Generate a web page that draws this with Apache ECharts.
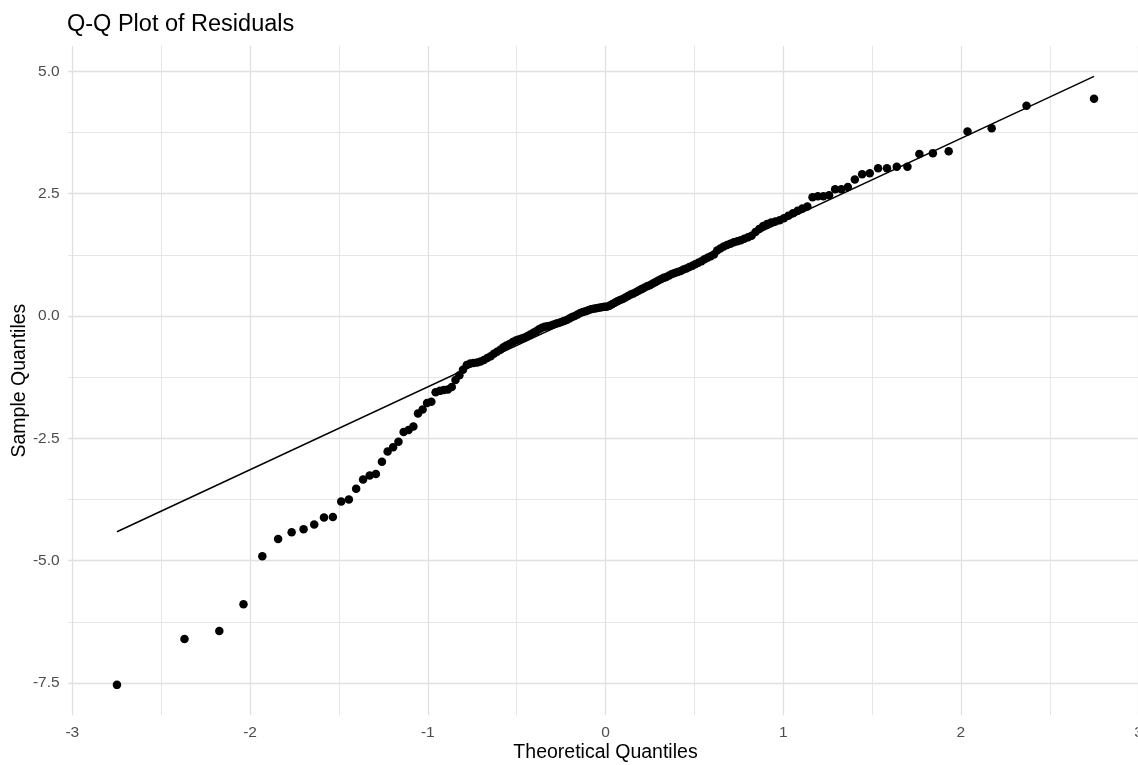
<!DOCTYPE html>
<html>
<head>
<meta charset="utf-8">
<title>Q-Q Plot of Residuals</title>
<script src="https://cdn.jsdelivr.net/npm/echarts@6/dist/echarts.min.js"></script>
<style>
  html, body { margin: 0; padding: 0; background: #ffffff; overflow: hidden; }
  /* the panel runs a few pixels past the right edge of the window */
  #chart { width: 1160px; height: 765px; }
</style>
</head>
<body>
<div id="chart"></div>
<script>
// Theoretical normal quantiles for the 168 ranked residuals
const theoreticalQuantiles = [
  -2.749, -2.369, -2.173, -2.037, -1.931, -1.842, -1.766, -1.699, -1.639, -1.584,
  -1.534, -1.487, -1.444, -1.403, -1.364, -1.327, -1.292, -1.258, -1.226, -1.195,
  -1.165, -1.136, -1.108, -1.081, -1.055, -1.029, -1.004, -0.980, -0.956, -0.932,
  -0.909, -0.887, -0.865, -0.844, -0.822, -0.802, -0.781, -0.761, -0.742, -0.722,
  -0.703, -0.684, -0.665, -0.646, -0.628, -0.610, -0.592, -0.574, -0.557, -0.540,
  -0.522, -0.505, -0.489, -0.472, -0.455, -0.439, -0.423, -0.406, -0.390, -0.374,
  -0.358, -0.342, -0.327, -0.311, -0.295, -0.280, -0.264, -0.249, -0.234, -0.218,
  -0.203, -0.188, -0.173, -0.157, -0.142, -0.127, -0.112, -0.097, -0.082, -0.067,
  -0.052, -0.037, -0.022, -0.007,
  0.007, 0.022, 0.037, 0.052, 0.067, 0.082, 0.097, 0.112, 0.127, 0.142,
  0.157, 0.173, 0.188, 0.203, 0.218, 0.234, 0.249, 0.264, 0.280, 0.295,
  0.311, 0.327, 0.342, 0.358, 0.374, 0.390, 0.406, 0.423, 0.439, 0.455,
  0.472, 0.489, 0.505, 0.522, 0.540, 0.557, 0.574, 0.592, 0.610, 0.628,
  0.646, 0.665, 0.684, 0.703, 0.722, 0.742, 0.761, 0.781, 0.802, 0.822,
  0.844, 0.865, 0.887, 0.909, 0.932, 0.956, 0.980, 1.004, 1.029, 1.055,
  1.081, 1.108, 1.136, 1.165, 1.195, 1.226, 1.258, 1.292, 1.327, 1.364,
  1.403, 1.444, 1.487, 1.534, 1.584, 1.639, 1.699, 1.766, 1.842, 1.931,
  2.037, 2.173, 2.369, 2.749
];

// Sorted residuals (sample quantiles), same order as above
const sampleQuantiles = [
  -7.54, -6.60, -6.44, -5.89, -4.91, -4.56, -4.42, -4.36, -4.26, -4.12,
  -4.11, -3.79, -3.75, -3.53, -3.34, -3.26, -3.23, -2.98, -2.77, -2.68,
  -2.57, -2.37, -2.33, -2.26, -1.99, -1.91, -1.78, -1.75, -1.56, -1.53,
  -1.51, -1.50, -1.45, -1.31, -1.21, -1.10, -1.00, -0.97, -0.96, -0.95,
  -0.93, -0.90, -0.86, -0.82, -0.77, -0.73, -0.69, -0.64, -0.60, -0.57,
  -0.53, -0.50, -0.48, -0.46, -0.44, -0.41, -0.38, -0.34, -0.31, -0.27,
  -0.24, -0.22, -0.21, -0.20, -0.18, -0.16, -0.14, -0.12, -0.10, -0.08,
  -0.05, -0.02, 0.00, 0.03, 0.06, 0.08, 0.10, 0.12, 0.14, 0.15,
  0.16, 0.17, 0.18, 0.19,
  0.19, 0.21, 0.24, 0.27, 0.30, 0.33, 0.35, 0.38, 0.41, 0.44,
  0.46, 0.49, 0.52, 0.55, 0.58, 0.61, 0.63, 0.66, 0.69, 0.72,
  0.75, 0.78, 0.80, 0.83, 0.86, 0.88, 0.90, 0.92, 0.95, 0.97,
  1.00, 1.03, 1.06, 1.09, 1.12, 1.16, 1.19, 1.22, 1.26, 1.34,
  1.38, 1.42, 1.45, 1.48, 1.51, 1.53, 1.55, 1.58, 1.61, 1.64,
  1.72, 1.78, 1.84, 1.88, 1.91, 1.93, 1.96, 2.00, 2.05, 2.10,
  2.15, 2.20, 2.24, 2.43, 2.45, 2.45, 2.47, 2.59, 2.59, 2.64,
  2.79, 2.90, 2.92, 3.02, 3.02, 3.05, 3.05, 3.31, 3.33, 3.37,
  3.77, 3.84, 4.30, 4.44
];

// Reference line through the quartiles, spanning the theoretical range
const refLineX = [-2.749, 2.749];
const refLineY = [-4.41, 4.90];

// Tick positions (major with labels, minor as grid lines only)
const xTicks = [-3, -2, -1, 0, 1, 2, 3];
const xMinorTicks = [-2.5, -1.5, -0.5, 0.5, 1.5, 2.5];
const yTicks = [-7.5, -5, -2.5, 0, 2.5, 5];
const yMinorTicks = [-6.25, -3.75, -1.25, 1.25, 3.75];

// Axis limits: data range padded by 5% on each side
function paddedRange(values) {
  const lo = Math.min.apply(null, values);
  const hi = Math.max.apply(null, values);
  const pad = (hi - lo) * 0.05;
  return [lo - pad, hi + pad];
}
const xRange = paddedRange(theoreticalQuantiles.concat(refLineX));
const yRange = paddedRange(sampleQuantiles.concat(refLineY));

const FONT = 'Liberation Sans, Arial, Helvetica, sans-serif';
const majorGrid = { show: true, lineStyle: { color: '#e0e0e0', width: 1.3 } };
const minorGrid = { show: true, lineStyle: { color: '#e3e3e3', width: 0.9 } };

const points = theoreticalQuantiles.map((x, i) => [x, sampleQuantiles[i]]);
const refLine = refLineX.map((x, i) => [x, refLineY[i]]);

const chart = echarts.init(document.getElementById('chart'), null, { renderer: 'canvas' });
chart.setOption({
  animation: false,
  backgroundColor: '#ffffff',
  title: {
    text: 'Q-Q Plot of Residuals',
    left: 67,
    top: 13,
    padding: 0,
    textStyle: { fontFamily: FONT, fontSize: 23.5, fontWeight: 'normal', color: '#000000' }
  },
  grid: {
    left: 68.1, top: 45.9, width: 1074.8, height: 669.4,
    containLabel: false,
    outerBoundsMode: 'none'
  },
  xAxis: [
    {
      type: 'value',
      min: xRange[0],
      max: xRange[1],
      name: 'Theoretical Quantiles',
      nameLocation: 'middle',
      nameGap: 27,
      nameMoveOverlap: false,
      nameTextStyle: { fontFamily: FONT, fontSize: 19.5, color: '#000000' },
      axisLine: { show: false },
      axisTick: { show: false, customValues: xTicks },
      axisLabel: {
        customValues: xTicks,
        margin: 9,
        fontFamily: FONT, fontSize: 15.5, color: '#4d4d4d',
        formatter: v => String(v)
      },
      splitLine: majorGrid
    },
    {
      type: 'value',
      min: xRange[0],
      max: xRange[1],
      axisLine: { show: false },
      axisTick: { show: false, customValues: xMinorTicks },
      axisLabel: { show: false, customValues: xMinorTicks },
      splitLine: minorGrid
    }
  ],
  yAxis: [
    {
      type: 'value',
      min: yRange[0],
      max: yRange[1],
      name: 'Sample Quantiles',
      nameLocation: 'middle',
      nameGap: 38,
      nameMoveOverlap: false,
      nameTextStyle: { fontFamily: FONT, fontSize: 19.5, color: '#000000' },
      axisLine: { show: false },
      axisTick: { show: false, customValues: yTicks },
      axisLabel: {
        customValues: yTicks,
        margin: 8.5,
        fontFamily: FONT, fontSize: 15.5, color: '#4d4d4d',
        formatter: v => v.toFixed(1)
      },
      splitLine: majorGrid
    },
    {
      type: 'value',
      min: yRange[0],
      max: yRange[1],
      axisLine: { show: false },
      axisTick: { show: false, customValues: yMinorTicks },
      axisLabel: { show: false, customValues: yMinorTicks },
      splitLine: minorGrid
    }
  ],
  series: [
    {
      name: 'Residuals',
      type: 'scatter',
      xAxisIndex: 0,
      yAxisIndex: 0,
      data: points,
      symbol: 'circle',
      symbolSize: 8.5,
      itemStyle: { color: '#000000', opacity: 1 },
      emphasis: { disabled: true },
      z: 3
    },
    {
      name: 'Reference line',
      type: 'line',
      xAxisIndex: 0,
      yAxisIndex: 0,
      data: refLine,
      symbol: 'none',
      lineStyle: { color: '#000000', width: 1.5 },
      emphasis: { disabled: true },
      z: 4
    }
  ]
});
</script>
</body>
</html>
